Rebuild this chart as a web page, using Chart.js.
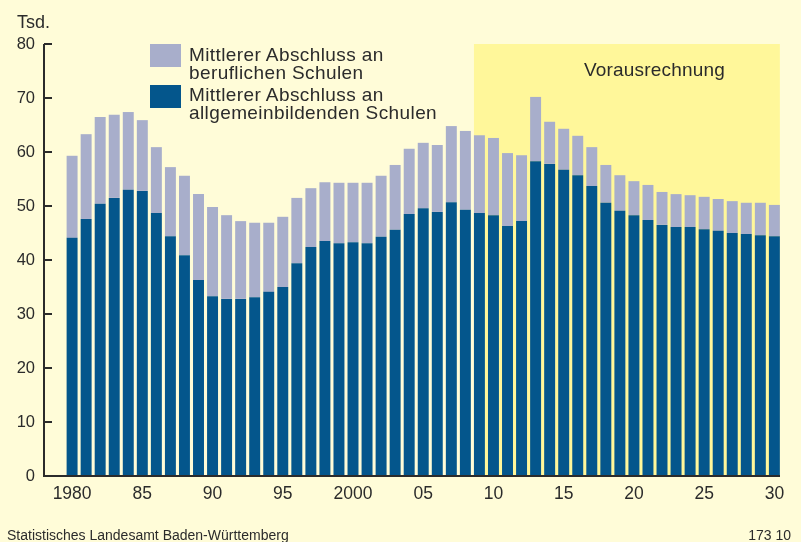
<!DOCTYPE html>
<html>
<head>
<meta charset="utf-8">
<script src="https://cdn.jsdelivr.net/npm/chart.js@4.4.1/dist/chart.umd.min.js"></script>
<style>
  body { margin: 0; background: #fffcd8; font-family: "Liberation Sans", Arial, sans-serif; color: #2b2b2b; }
  #wrap { position: relative; width: 801px; height: 542px; }
  .t { position: absolute; white-space: nowrap; }
  .sw { position: absolute; width: 31px; height: 23px; }
</style>
</head>
<body>
<div id="wrap">
  <canvas id="chart"></canvas>
  <div class="t" style="left:17px; top:12.5px; font-size:18px; line-height:18px;">Tsd.</div>
  <div class="sw" style="left:150px; top:44px; background:#a8aecb;"></div>
  <div class="sw" style="left:150px; top:85px; background:#04568c;"></div>
  <div class="t" style="left:189px; top:46.4px; font-size:19px; line-height:17.4px; letter-spacing:0.4px;">Mittlerer Abschluss an<br>beruflichen Schulen</div>
  <div class="t" style="left:189px; top:86.4px; font-size:19px; line-height:17.4px; letter-spacing:0.4px;">Mittlerer Abschluss an<br>allgemeinbildenden Schulen</div>
  <div class="t" style="left:554.5px; width:200px; text-align:center; top:60px; font-size:19px; line-height:19px; letter-spacing:0.2px;">Vorausrechnung</div>
  <div class="t" style="left:7px; top:528.2px; font-size:14px; line-height:14px;">Statistisches Landesamt Baden-Württemberg</div>
  <div class="t" style="right:10px; top:528.2px; font-size:14px; line-height:14px;">173 10</div>
</div>
<script>
  // years 1980-2030, from 2009 on it is a projection
  const years = [1980, 1981, 1982, 1983, 1984, 1985, 1986, 1987, 1988, 1989,
    1990, 1991, 1992, 1993, 1994, 1995, 1996, 1997, 1998, 1999,
    2000, 2001, 2002, 2003, 2004, 2005, 2006, 2007, 2008, 2009,
    2010, 2011, 2012, 2013, 2014, 2015, 2016, 2017, 2018, 2019,
    2020, 2021, 2022, 2023, 2024, 2025, 2026, 2027, 2028, 2029, 2030];

  // Mittlerer Abschluss an allgemeinbildenden Schulen (Tsd.)
  const allgemein = [44.1, 47.6, 50.4, 51.5, 53.0, 52.8, 48.7, 44.4, 40.9, 36.3,
    33.3, 32.8, 32.8, 33.1, 34.1, 35.0, 39.4, 42.4, 43.5, 43.1,
    43.3, 43.1, 44.3, 45.6, 48.5, 49.6, 48.9, 50.7, 49.3, 48.7,
    48.3, 46.3, 47.2, 58.3, 57.8, 56.7, 55.7, 53.7, 50.6, 49.1,
    48.3, 47.4, 46.5, 46.1, 46.1, 45.7, 45.4, 45.0, 44.8, 44.6, 44.4];

  // Mittlerer Abschluss an beruflichen Schulen (Tsd.)
  const beruflich = [15.2, 15.7, 16.1, 15.4, 14.4, 13.1, 12.2, 12.8, 14.7, 15.9,
    16.5, 15.5, 14.4, 13.8, 12.8, 13.0, 12.1, 10.9, 10.9, 11.2,
    11.0, 11.2, 11.3, 12.0, 12.1, 12.1, 12.4, 14.1, 14.6, 14.4,
    14.3, 13.5, 12.2, 11.9, 7.8, 7.6, 7.3, 7.2, 7.0, 6.6,
    6.3, 6.5, 6.1, 6.1, 5.9, 6.0, 5.9, 5.9, 5.8, 6.0, 5.8];

  const forecastFrom = 2009;
  const tickYears = [1980, 1985, 1990, 1995, 2000, 2005, 2010, 2015, 2020, 2025, 2030];
  const tickLabels = ["1980", "85", "90", "95", "2000", "05", "10", "15", "20", "25", "30"];

  const axisColor = "#2b2b2b";

  // yellow box behind the projected years
  const forecastBox = {
    id: "forecastBox",
    beforeDatasetsDraw(chart) {
      const meta = chart.getDatasetMeta(0);
      const i = years.indexOf(forecastFrom);
      const bar = meta.data[i];
      const x = chart.scales.x;
      const y = chart.scales.y;
      const left = x.getPixelForValue(forecastFrom) - bar.width / 2;
      const right = x.getPixelForValue(years[years.length - 1]) + bar.width / 2;
      const ctx = chart.ctx;
      ctx.save();
      ctx.fillStyle = "#fff79a";
      ctx.fillRect(left, y.getPixelForValue(80), right - left, y.getPixelForValue(0) - y.getPixelForValue(80));
      ctx.restore();
    }
  };

  // axis lines with inward ticks
  const axisLines = {
    id: "axisLines",
    afterDatasetsDraw(chart) {
      const a = chart.chartArea;
      const y = chart.scales.y;
      const ctx = chart.ctx;
      ctx.save();
      ctx.strokeStyle = axisColor;
      ctx.lineWidth = 2;
      ctx.beginPath();
      ctx.moveTo(a.left, a.top);
      ctx.lineTo(a.left, a.bottom);
      ctx.lineTo(a.right, a.bottom);
      y.ticks.forEach(t => {
        const py = y.getPixelForValue(t.value);
        ctx.moveTo(a.left, py);
        ctx.lineTo(a.left + 8, py);
      });
      ctx.stroke();
      ctx.restore();
    }
  };

  new Chart(document.getElementById("chart"), {
    type: "bar",
    data: {
      datasets: [
        {
          label: "Mittlerer Abschluss an allgemeinbildenden Schulen",
          data: years.map((yr, i) => ({ x: yr, y: allgemein[i] })),
          backgroundColor: "#04568c",
        },
        {
          label: "Mittlerer Abschluss an beruflichen Schulen",
          data: years.map((yr, i) => ({ x: yr, y: beruflich[i] })),
          backgroundColor: "#a8aecb",
        },
      ],
    },
    options: {
      responsive: true,
      maintainAspectRatio: false,
      animation: false,
      layout: { padding: { top: 44, right: 21, left: 0, bottom: 0 } },
      datasets: { bar: { categoryPercentage: 1, barPercentage: 0.78, borderWidth: 0 } },
      plugins: { legend: { display: false }, tooltip: { enabled: false } },
      scales: {
        x: {
          type: "linear",
          stacked: true,
          offset: false,
          min: 1978,
          max: 2030.4,
          afterBuildTicks: s => { s.ticks = tickYears.map(v => ({ value: v })); },
          afterFit: s => { s.height = 66; },
          grid: { display: false, drawTicks: false, offset: false },
          border: { display: false },
          ticks: {
            autoSkip: false,
            maxRotation: 0,
            padding: 8,
            color: "#2b2b2b",
            font: { family: "Liberation Sans, Arial", size: 17.5 },
            callback: v => tickLabels[tickYears.indexOf(v)],
          },
        },
        y: {
          stacked: true,
          min: 0,
          max: 80,
          afterFit: s => { s.width = 44; },
          grid: { display: false, drawTicks: false },
          border: { display: false },
          ticks: {
            stepSize: 10,
            padding: 9,
            color: "#2b2b2b",
            font: { family: "Liberation Sans, Arial", size: 16.5 },
          },
        },
      },
    },
    plugins: [forecastBox, axisLines],
  });
</script>
</body>
</html>
